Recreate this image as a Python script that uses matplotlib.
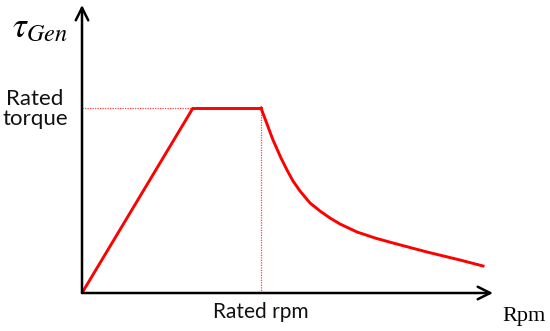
import numpy as np
import matplotlib
matplotlib.use("Agg")
import matplotlib.pyplot as plt

# Generator torque vs speed (arbitrary units)
ramp_rpm = [0, 111]
ramp_torque = [0, 185]
flat_rpm = [111, 179]
flat_torque = [185, 185]
decay_rpm = [179, 185, 191, 199, 205, 211, 218, 228, 238, 248, 258, 275, 293, 311, 345, 378, 401]
decay_torque = [185, 169, 153, 135, 123, 112, 102, 90, 82, 75, 69, 61, 55, 50, 41, 33, 27]
rated_rpm = 179
rated_torque = 185
axis_xmax = 411
axis_ymax = 288

plt.rcParams['mathtext.fontset'] = 'stix'

fig = plt.figure(figsize=(5.5, 3.31), dpi=100)
ax = fig.add_axes([0, 0, 1, 1])
ax.set_xlim(-82, 468)
ax.set_ylim(-38, 293)
ax.axis('off')

red = '#ff0000'
# guide lines
ax.plot([0, ramp_rpm[1]], [rated_torque, rated_torque], color='#ff4040', lw=0.9, ls=(0, (1, 1)))
ax.plot([rated_rpm, rated_rpm], [0, rated_torque], color='#ff4040', lw=0.9, ls=(0, (1, 1)))

# torque curve
ax.plot(ramp_rpm, ramp_torque, color=red, lw=2.1, solid_capstyle='butt')
ax.plot(flat_rpm, flat_torque, color=red, lw=2.1)
ax.plot(decay_rpm, decay_torque, color=red, lw=2.1, solid_joinstyle='round')

# axes with arrows
arrow = dict(arrowstyle='->,head_length=0.9,head_width=0.45', color='black', lw=1.8,
             shrinkA=0, shrinkB=0)
ax.annotate('', xy=(axis_xmax, 0), xytext=(0, 0), arrowprops=arrow)
ax.annotate('', xy=(0, axis_ymax), xytext=(0, 0), arrowprops=arrow)

# labels
ax.text(-42, 266, r'$\tau_{Gen}$', fontsize=25, ha='center', va='center')
ax.text(-47, 184, 'Rated\ntorque', fontsize=16, family='Lato', ha='center',
        va='center', linespacing=1.05, color='#111111')
ax.text(rated_rpm, -19, 'Rated rpm', fontsize=15, family='Lato', ha='center',
        va='center', color='#111111')
ax.text(442, -23, 'Rpm', fontsize=16, family='Liberation Serif', ha='center', va='center')

fig.savefig('out.png', dpi=100)
